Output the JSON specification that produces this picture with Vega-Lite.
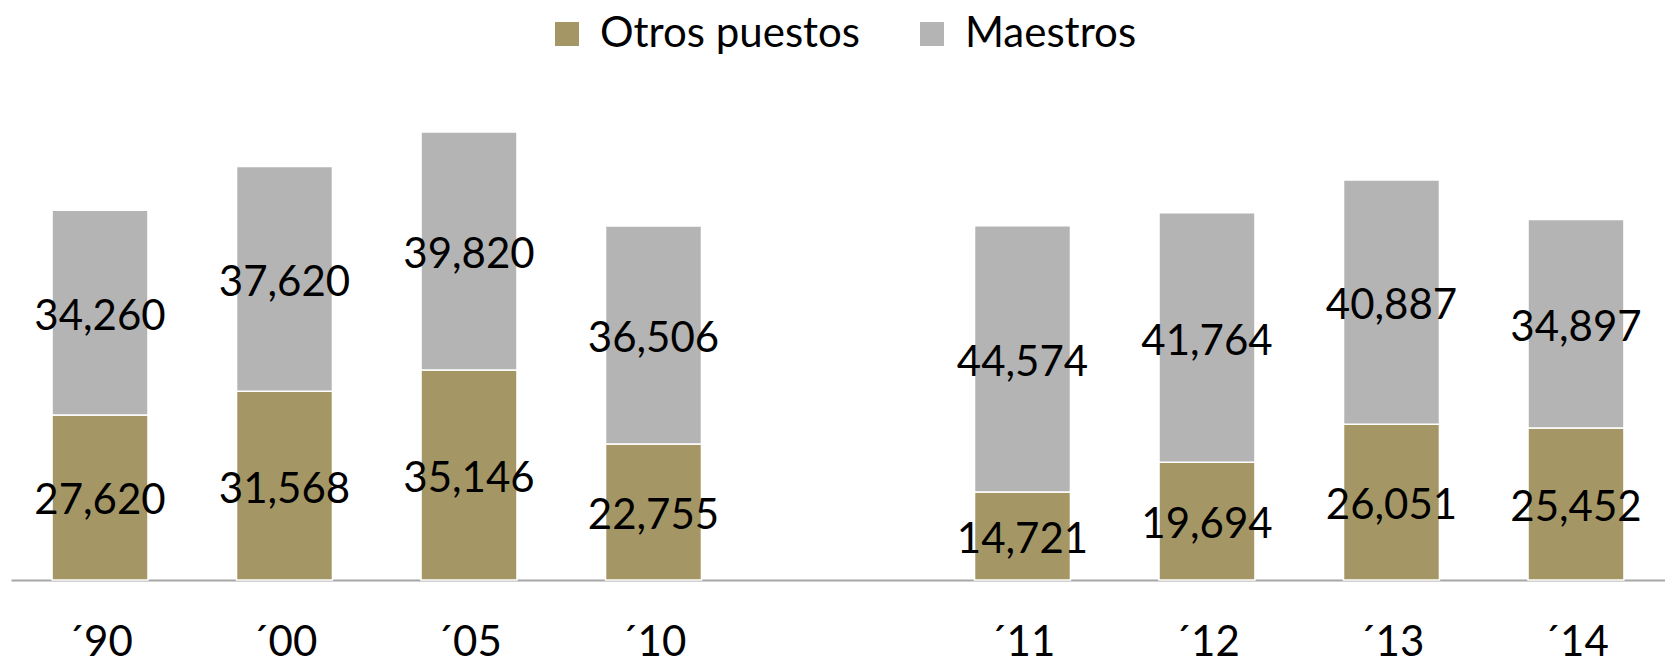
{
  "$schema": "https://vega.github.io/schema/vega-lite/v6.json",
  "autosize": "none",
  "width": 1654,
  "height": 490,
  "padding": {"left": 11, "top": 90, "right": 0, "bottom": 85},
  "background": "white",
  "config": {
    "view": {"stroke": null},
    "font": "Lato"
  },
  "data": {
    "values": [
      {"anio": "´90", "tipo": "Otros puestos", "valor": 27620},
      {"anio": "´90", "tipo": "Maestros", "valor": 34260},
      {"anio": "´00", "tipo": "Otros puestos", "valor": 31568},
      {"anio": "´00", "tipo": "Maestros", "valor": 37620},
      {"anio": "´05", "tipo": "Otros puestos", "valor": 35146},
      {"anio": "´05", "tipo": "Maestros", "valor": 39820},
      {"anio": "´10", "tipo": "Otros puestos", "valor": 22755},
      {"anio": "´10", "tipo": "Maestros", "valor": 36506},
      {"anio": "´11", "tipo": "Otros puestos", "valor": 14721},
      {"anio": "´11", "tipo": "Maestros", "valor": 44574},
      {"anio": "´12", "tipo": "Otros puestos", "valor": 19694},
      {"anio": "´12", "tipo": "Maestros", "valor": 41764},
      {"anio": "´13", "tipo": "Otros puestos", "valor": 26051},
      {"anio": "´13", "tipo": "Maestros", "valor": 40887},
      {"anio": "´14", "tipo": "Otros puestos", "valor": 25452},
      {"anio": "´14", "tipo": "Maestros", "valor": 34897}
    ]
  },
  "encoding": {
    "x": {
      "field": "anio",
      "type": "nominal",
      "scale": {
        "domain": ["´90", "´00", "´05", "´10", " ", "´11", "´12", "´13", "´14"],
        "paddingInner": 0.48,
        "paddingOuter": 0.2225
      },
      "axis": {
        "title": null,
        "labelAngle": 0,
        "labelFont": "Lato",
        "labelFontSize": 42,
        "labelColor": "#000000",
        "labelPadding": 42,
        "ticks": false,
        "domainColor": "#A6A6A6",
        "domainWidth": 2,
        "grid": false
      }
    }
  },
  "layer": [
    {
      "mark": {"type": "bar", "stroke": "white", "strokeWidth": 1.5},
      "encoding": {
        "y": {
          "field": "valor",
          "type": "quantitative",
          "stack": "zero",
          "scale": {"domain": [0, 82000], "nice": false},
          "axis": null
        },
        "color": {
          "field": "tipo",
          "type": "nominal",
          "scale": {
            "domain": ["Otros puestos", "Maestros"],
            "range": ["#A59765", "#B4B4B4"]
          },
          "legend": {
            "title": null,
            "orient": "none",
            "direction": "horizontal",
            "legendX": 535,
            "legendY": -77,
            "symbolType": "square",
            "symbolSize": 576,
            "symbolStrokeWidth": 0,
            "symbolOpacity": 1,
            "labelFont": "Lato",
            "labelFontSize": 42,
            "labelColor": "#000000",
            "labelLimit": 500,
            "labelOffset": 12,
            "columnPadding": 50
          }
        },
        "order": {"field": "tipo", "sort": "descending"}
      }
    },
    {
      "transform": [
        {
          "stack": "valor",
          "groupby": ["anio"],
          "sort": [{"field": "tipo", "order": "descending"}],
          "as": ["v0", "v1"]
        },
        {"calculate": "(datum.v0 + datum.v1) / 2", "as": "medio"}
      ],
      "mark": {
        "type": "text",
        "font": "Lato",
        "fontSize": 42,
        "color": "#000000",
        "baseline": "middle",
        "align": "center",
        "dy": 4
      },
      "encoding": {
        "y": {
          "field": "medio",
          "type": "quantitative",
          "scale": {"domain": [0, 82000], "nice": false},
          "axis": null
        },
        "text": {"field": "valor", "type": "quantitative", "format": ","}
      }
    }
  ]
}
